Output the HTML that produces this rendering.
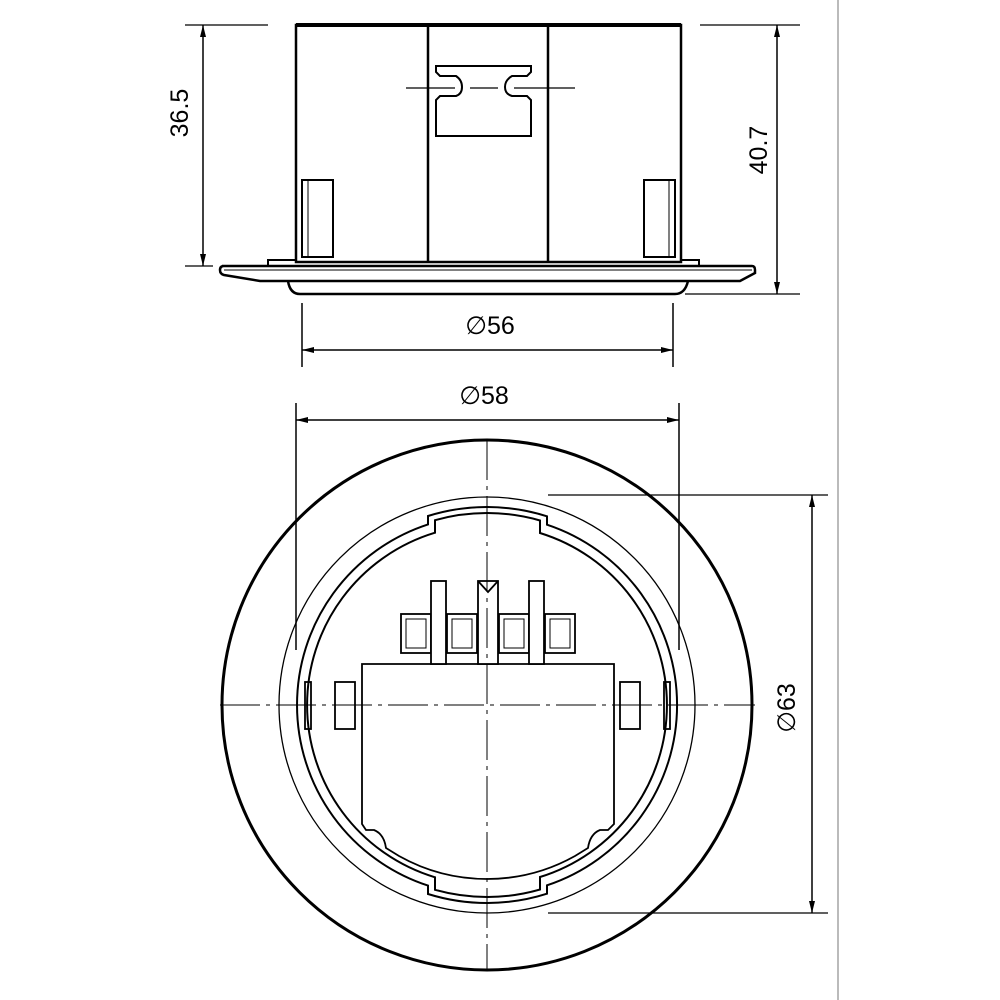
<!DOCTYPE html>
<html><head><meta charset="utf-8"><style>html,body{margin:0;padding:0;background:#fff}svg{display:block}</style></head>
<body>
<svg width="1000" height="1000" viewBox="0 0 1000 1000" xmlns="http://www.w3.org/2000/svg" font-family="Liberation Sans, sans-serif">
<defs>
<marker id="a" viewBox="0 0 12 6" refX="12" refY="3" markerWidth="12" markerHeight="6" orient="auto-start-reverse" markerUnits="userSpaceOnUse"><path d="M0,0 L12,3 L0,6 Z" fill="#000"/></marker>
</defs>
<line x1="838" y1="0" x2="838" y2="1000" stroke="#bbb" stroke-width="2"/>
<g fill="none" stroke="#000">
<rect x="296" y="25" width="385" height="237" stroke-width="2.5"/>
<line x1="296" y1="25" x2="681" y2="25" stroke-width="4"/>
<line x1="428" y1="25" x2="428" y2="262" stroke-width="2.5"/>
<line x1="548" y1="25" x2="548" y2="262" stroke-width="2.5"/>
<path d="M436,66 H531 V72 L527,76 H512 Q505,80 505,87 Q505,94 512,96 H527 L531,100 V136 H436 V100 L440,96 H456 Q462,94 462,87 Q462,80 456,76 H440 L436,72 Z" stroke-width="2"/>
<line x1="406" y1="88" x2="455" y2="88" stroke-width="1.2"/>
<line x1="470" y1="88" x2="498" y2="88" stroke-width="1.2"/>
<line x1="514" y1="88" x2="575" y2="88" stroke-width="1.2"/>
<rect x="302" y="180" width="31" height="77" stroke-width="2"/>
<line x1="308" y1="180" x2="308" y2="257" stroke-width="1"/>
<rect x="644" y="180" width="31" height="77" stroke-width="2"/>
<line x1="669" y1="180" x2="669" y2="257" stroke-width="1"/>
<path d="M268,266 V260 H296 M681,260 H699 V266" stroke-width="2"/>
<path d="M222,266 H752 Q755,266 755,270 V273 L740,281 H260 L224,275 Q220,274 220,270 Q220,266 224,266 Z" stroke-width="2.5"/>
<line x1="224" y1="270" x2="752" y2="270" stroke-width="1"/>
<path d="M288,281 Q290,294 300,294 H675 Q685,294 688,281" stroke-width="2.5"/>
<line x1="185" y1="25" x2="268" y2="25" stroke-width="1.2"/>
<line x1="185" y1="266" x2="213" y2="266" stroke-width="1.2"/>
<line x1="203" y1="25" x2="203" y2="266" stroke-width="1.5" marker-start="url(#a)" marker-end="url(#a)"/>
<line x1="700" y1="25" x2="800" y2="25" stroke-width="1.2"/>
<line x1="685" y1="294" x2="800" y2="294" stroke-width="1.2"/>
<line x1="777" y1="25" x2="777" y2="294" stroke-width="1.5" marker-start="url(#a)" marker-end="url(#a)"/>
<line x1="302" y1="303" x2="302" y2="367" stroke-width="1.5"/>
<line x1="673" y1="303" x2="673" y2="367" stroke-width="1.5"/>
<line x1="302" y1="350" x2="673" y2="350" stroke-width="1.5" marker-start="url(#a)" marker-end="url(#a)"/>
<line x1="296" y1="403" x2="296" y2="650" stroke-width="1.5"/>
<line x1="679" y1="403" x2="679" y2="650" stroke-width="1.5"/>
<line x1="296" y1="420" x2="679" y2="420" stroke-width="1.5" marker-start="url(#a)" marker-end="url(#a)"/>
<line x1="548" y1="495" x2="828" y2="495" stroke-width="1.2"/>
<line x1="548" y1="913" x2="828" y2="913" stroke-width="1.2"/>
<line x1="812" y1="495" x2="812" y2="913" stroke-width="1.5" marker-start="url(#a)" marker-end="url(#a)"/>
<circle cx="487" cy="705" r="265" stroke-width="3"/>
<circle cx="487" cy="705" r="208" stroke-width="1.3"/>
<path d="M428,524.4 L428,516 A198,198 0 0 1 547,516.3 L547,524.7 A190,190 0 0 1 547,885.3 L547,893.7 A198,198 0 0 1 428,894 L428,885.6 A190,190 0 0 1 428,524.4 Z" stroke-width="2"/>
<path d="M435,532.7 L435,520.2 A192,192 0 0 1 540,520.5 L540,533 A180,180 0 0 1 540,877 L540,889.5 A192,192 0 0 1 435,889.8 L435,877.3 A180,180 0 0 1 435,532.7 Z" stroke-width="2"/>
<path d="M362,664 H614 V824 L608,830 H600 Q590,834 588,848 L575,856 A180,180 0 0 1 399,856 L386,848 Q384,834 374,830 H366 L362,824 Z" stroke-width="1.8" fill="#fff"/>
<g stroke-width="1.8">
<rect x="401" y="614" width="30" height="39"/><rect x="447" y="614" width="30" height="39"/>
<rect x="499" y="614" width="30" height="39"/><rect x="545" y="614" width="30" height="39"/>
<rect x="406" y="619" width="20" height="29" stroke-width="1"/><rect x="452" y="619" width="20" height="29" stroke-width="1"/>
<rect x="504" y="619" width="20" height="29" stroke-width="1"/><rect x="550" y="619" width="20" height="29" stroke-width="1"/>
<rect x="431" y="581" width="15" height="83" fill="#fff"/><rect x="529" y="581" width="15" height="83" fill="#fff"/>
<rect x="478" y="581" width="20" height="83" fill="#fff"/>
<path d="M478,581 L488,592 L498,581"/>
<rect x="335" y="682" width="20" height="47"/><rect x="620" y="682" width="20" height="47"/>
<rect x="305" y="682" width="6" height="47"/><rect x="664" y="682" width="6" height="47"/>
</g>
<line x1="487" y1="440" x2="487" y2="970" stroke-width="1" stroke-dasharray="40,6,4,6"/>
<line x1="220" y1="705" x2="755" y2="705" stroke-width="1" stroke-dasharray="40,6,4,6"/>
</g>
<g font-size="25" fill="#000">
<text x="188" y="113" text-anchor="middle" transform="rotate(-90 188 113)">36.5</text>
<text x="767" y="150" text-anchor="middle" transform="rotate(-90 767 150)">40.7</text>
<text x="490" y="334" text-anchor="middle">∅56</text>
<text x="484" y="404" text-anchor="middle">∅58</text>
<text x="795" y="708" text-anchor="middle" transform="rotate(-90 795 708)">∅63</text>
</g>
</svg>
</body></html>
